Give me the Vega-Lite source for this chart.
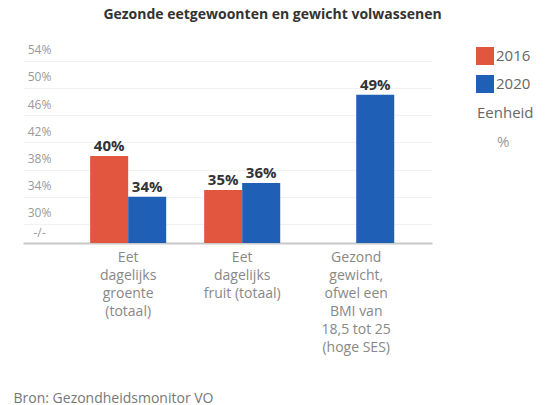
{
  "$schema": "https://vega.github.io/schema/vega-lite/v6.json",
  "autosize": {"type": "none"},
  "padding": {"left": 23, "top": 47, "right": 116, "bottom": 162},
  "width": 409,
  "height": 196,
  "background": "white",
  "config": {
    "font": "Open Sans",
    "view": {"stroke": null}
  },
  "title": {
    "text": "Gezonde eetgewoonten en gewicht volwassenen",
    "fontSize": 14,
    "fontWeight": "bold",
    "color": "#333333",
    "anchor": "middle",
    "frame": "group",
    "offset": 22,
    "dx": 45
  },
  "data": {
    "values": [
      {"categorie": "Eet dagelijks groente (totaal)", "jaar": "2016", "waarde": 40, "label": "40%", "eenheid": "%"},
      {"categorie": "Eet dagelijks groente (totaal)", "jaar": "2020", "waarde": 34, "label": "34%", "eenheid": "%"},
      {"categorie": "Eet dagelijks fruit (totaal)", "jaar": "2016", "waarde": 35, "label": "35%", "eenheid": "%"},
      {"categorie": "Eet dagelijks fruit (totaal)", "jaar": "2020", "waarde": 36, "label": "36%", "eenheid": "%"},
      {"categorie": "Gezond gewicht, ofwel een BMI van 18,5 tot 25 (hoge SES)", "jaar": "2020", "waarde": 49, "label": "49%", "eenheid": "%"}
    ]
  },
  "encoding": {
    "x": {
      "field": "categorie",
      "type": "nominal",
      "sort": null,
      "scale": {"paddingInner": 0.333, "paddingOuter": 0.46, "align": 0.64},
      "axis": {
        "title": "Bron: Gezondheidsmonitor VO",
        "titleFont": "Open Sans",
        "titleFontSize": 14,
        "titleFontWeight": "normal",
        "titleColor": "#777777",
        "titleAlign": "left",
        "titleBaseline": "middle",
        "titleAnchor": "start",
        "titleX": -10,
        "titleY": 155,
        "labelAngle": 0,
        "labelFontSize": 14,
        "labelColor": "#888888",
        "labelLineHeight": 18,
        "labelPadding": 7,
        "labelBaseline": "top",
        "labelOverlap": false,
        "labelExpr": "datum.label == 'Eet dagelijks groente (totaal)' ? ['Eet','dagelijks','groente','(totaal)'] : datum.label == 'Eet dagelijks fruit (totaal)' ? ['Eet','dagelijks','fruit (totaal)'] : ['Gezond','gewicht,','ofwel een','BMI van','18,5 tot 25','(hoge SES)']",
        "ticks": false,
        "domainColor": "#c8c8c8",
        "domainWidth": 2,
        "grid": false
      }
    },
    "y": {
      "field": "waarde",
      "type": "quantitative",
      "scale": {"domain": [27.2, 56], "nice": false, "zero": false},
      "axis": {
        "title": null,
        "values": [27.2, 30, 34, 38, 42, 46, 50, 54],
        "labelExpr": "datum.value < 28 ? '-/-' : datum.value + '%'",
        "labelAlign": "center",
        "labelBaseline": "middle",
        "labelPadding": -16,
        "labelOffset": -11,
        "labelFontSize": 12,
        "labelColor": "#999999",
        "ticks": false,
        "domain": false,
        "grid": true,
        "gridColor": "#f2f2f2",
        "gridWidth": 1
      }
    }
  },
  "layer": [
    {
      "mark": {"type": "bar"},
      "encoding": {
        "y2": {"datum": 27.2},
        "xOffset": {"field": "jaar", "type": "nominal", "scale": {"domain": ["2016", "2020"], "paddingInner": 0, "paddingOuter": 0}},
        "fill": {
          "field": "jaar",
          "type": "nominal",
          "scale": {"domain": ["2016", "2020"], "range": ["#e2563f", "#1f5fb5"]},
          "legend": {
            "title": null,
            "orient": "right",
            "offset": 44,
            "symbolType": "square",
            "symbolSize": 324,
            "symbolStrokeWidth": 0,
            "labelFontSize": 15,
            "labelColor": "#666666",
            "labelOffset": 2,
            "rowPadding": 10
          }
        }
      }
    },
    {
      "mark": {"type": "text", "baseline": "bottom", "dy": -2, "fontSize": 15, "fontWeight": "bold", "color": "#333333"},
      "encoding": {
        "xOffset": {"field": "jaar", "type": "nominal", "scale": {"domain": ["2016", "2020"], "paddingInner": 0, "paddingOuter": 0}},
        "text": {"field": "label"}
      }
    },
    {
      "mark": {"type": "point", "opacity": 0},
      "encoding": {
        "shape": {
          "field": "eenheid",
          "type": "nominal",
          "legend": {
            "title": "Eenheid",
            "titleFontSize": 15,
            "titleFontWeight": "normal",
            "titleColor": "#666666",
            "titlePadding": 12,
            "orient": "none",
            "legendX": 454,
            "legendY": 59,
            "padding": 0,
            "symbolOpacity": 0,
            "symbolSize": 324,
            "symbolStrokeWidth": 0,
            "labelFontSize": 15,
            "labelColor": "#999999",
            "labelOffset": 2
          }
        }
      }
    }
  ]
}
